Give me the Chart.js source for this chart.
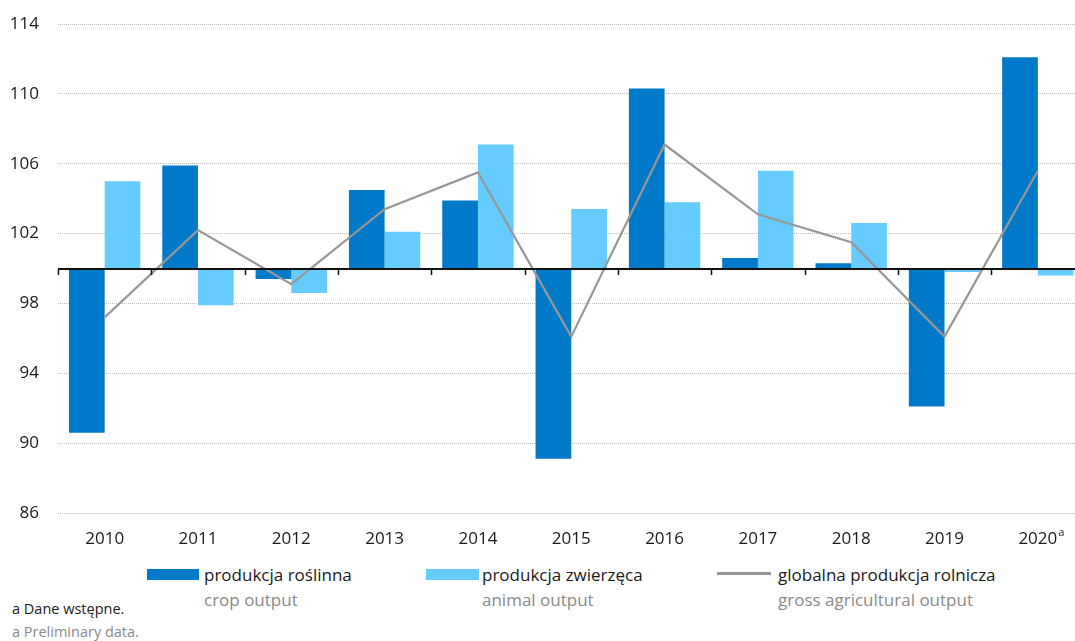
<!DOCTYPE html>
<html lang="pl">
<head>
<meta charset="utf-8">
<title>Produkcja rolnicza</title>
<script src="https://cdn.jsdelivr.net/npm/chart.js@4/dist/chart.umd.min.js"></script>
<style>
  html, body { margin: 0; padding: 0; background: #fff; overflow: hidden; }
  #wrap { position: relative; width: 1090px; height: 641px; font-family: "Open Sans", sans-serif; }
  #chart { position: absolute; left: 0; top: 0; }
  .sw { position: absolute; height: 11px; top: 569px; }
  .lg { position: absolute; font-size: 17px; line-height: 20px; white-space: nowrap; }
  .pl { color: #1a1a1a; top: 565px; }
  .en { color: #8a8a8a; top: 590px; }
  .fn { position: absolute; left: 12px; font-size: 14.5px; line-height: 18px; white-space: nowrap; }
</style>
</head>
<body>
<div id="wrap">
  <canvas id="chart" width="1090" height="560"></canvas>

  <div class="sw" style="left:147px;width:52px;background:#0079c8"></div>
  <div class="lg pl" style="left:204px">produkcja roślinna</div>
  <div class="lg en" style="left:204px">crop output</div>

  <div class="sw" style="left:426px;width:53px;background:#66ccff"></div>
  <div class="lg pl" style="left:482px">produkcja zwierzęca</div>
  <div class="lg en" style="left:482px">animal output</div>

  <div class="sw" style="left:717px;width:54px;height:3px;top:572px;background:#979797"></div>
  <div class="lg pl" style="left:778px">globalna produkcja rolnicza</div>
  <div class="lg en" style="left:778px">gross agricultural output</div>

  <div class="fn" style="top:600px;color:#1a1a1a">a Dane wstępne.</div>
  <div class="fn" style="top:623px;color:#8a8a8a">a Preliminary data.</div>
</div>

<script>
// previous year = 100
const years = ["2010", "2011", "2012", "2013", "2014", "2015", "2016", "2017", "2018", "2019", "2020"];
const cropOutput = [90.6, 105.9, 99.4, 104.5, 103.9, 89.1, 110.3, 100.6, 100.3, 92.1, 112.1];
const animalOutput = [105.0, 97.9, 98.6, 102.1, 107.1, 103.4, 103.8, 105.6, 102.6, 99.8, 99.6];
const grossOutput = [97.2, 102.2, 99.1, 103.4, 105.5, 96.1, 107.1, 103.1, 101.5, 96.1, 105.6];
const yTicks = [86, 90, 94, 98, 102, 106, 110, 114];
const baseValue = 100;
const footnoteYear = "2020";

const darkBlue = "#0079c8";
const lightBlue = "#66ccff";
const grey = "#979797";

// bars hang from 100, not from the axis minimum
const fromBase = vals => vals.map(v => [baseValue, v]);

// black line at 100 with small marks between categories
const baselinePlugin = {
  id: "baseline",
  afterDatasetsDraw(chart) {
    const { ctx, chartArea, scales } = chart;
    const y0 = Math.round(scales.y.getPixelForValue(baseValue));
    const catW = scales.x.width / years.length;
    ctx.save();
    ctx.strokeStyle = "#111";
    ctx.lineWidth = 2;
    ctx.beginPath();
    ctx.moveTo(chartArea.left, y0);
    ctx.lineTo(chartArea.right, y0);
    ctx.stroke();
    ctx.lineWidth = 1.5;
    for (let i = 0; i < years.length; i++) {
      const bx = Math.round(scales.x.getPixelForValue(i) - catW / 2) + 0.5;
      ctx.beginPath();
      ctx.moveTo(bx, y0);
      ctx.lineTo(bx, y0 + 6);
      ctx.stroke();
    }
    ctx.restore();
  }
};

// superscript "a" after the preliminary year
const footnotePlugin = {
  id: "footnoteMark",
  afterDraw(chart) {
    const { ctx, scales } = chart;
    const i = years.indexOf(footnoteYear);
    if (i < 0) return;
    ctx.save();
    ctx.font = "17px 'Open Sans'";
    const w = ctx.measureText(footnoteYear).width;
    const cx = scales.x.getPixelForValue(i);
    ctx.font = "11px 'Open Sans'";
    ctx.fillStyle = "#1a1a1a";
    ctx.textBaseline = "middle";
    ctx.fillText("a", cx + w / 2 + 1, 533);
    ctx.restore();
  }
};

document.addEventListener("DOMContentLoaded", function () {
  const ctx = document.getElementById("chart").getContext("2d");
  new Chart(ctx, {
    data: {
      labels: years,
      datasets: [
        {
          type: "line",
          label: "globalna produkcja rolnicza",
          data: grossOutput,
          borderColor: grey,
          borderWidth: 2.2,
          pointRadius: 0,
          tension: 0,
          fill: false,
          order: 0
        },
        {
          type: "bar",
          label: "produkcja roślinna",
          data: fromBase(cropOutput),
          backgroundColor: darkBlue,
          barPercentage: 1,
          categoryPercentage: 0.765,
          order: 1
        },
        {
          type: "bar",
          label: "produkcja zwierzęca",
          data: fromBase(animalOutput),
          backgroundColor: lightBlue,
          barPercentage: 1,
          categoryPercentage: 0.765,
          order: 1
        }
      ]
    },
    options: {
      responsive: false,
      animation: false,
      devicePixelRatio: 1,
      layout: { padding: { top: 24, right: 5.5, bottom: 0, left: 0 } },
      plugins: {
        legend: { display: false },
        tooltip: { enabled: false }
      },
      scales: {
        x: {
          grid: { display: false, drawTicks: false },
          border: { display: false },
          ticks: {
            color: "#1a1a1a",
            font: { family: "Open Sans", size: 17 },
            padding: 16,
            maxRotation: 0,
            autoSkip: false
          },
          afterFit(axis) { axis.height = 47; }
        },
        y: {
          min: yTicks[0],
          max: yTicks[yTicks.length - 1],
          afterBuildTicks(axis) { axis.ticks = yTicks.map(v => ({ value: v })); },
          // invisible tick marks give the label gap without extra top padding
          grid: { color: "#bdbdbd", lineWidth: 1, drawTicks: true, tickLength: 19, tickColor: "rgba(0,0,0,0)" },
          border: { display: false, dash: [1, 1] },
          ticks: {
            color: "#1a1a1a",
            font: { family: "Open Sans", size: 17 },
            padding: 0
          },
          afterFit(axis) { axis.width = 58; }
        }
      }
    },
    plugins: [baselinePlugin, footnotePlugin]
  });
});
</script>
</body>
</html>
